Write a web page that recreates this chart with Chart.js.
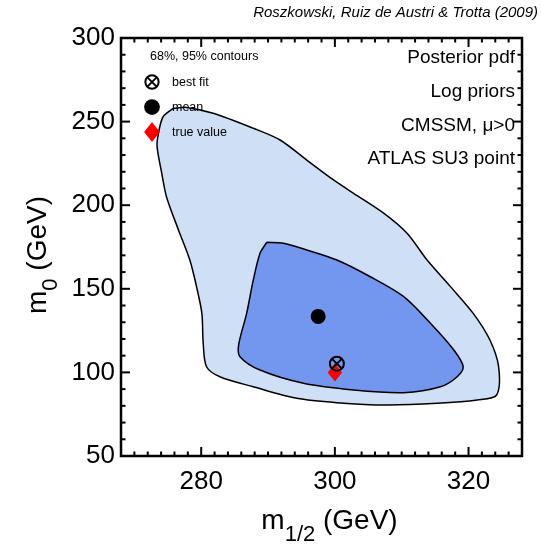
<!DOCTYPE html>
<html><head><meta charset="utf-8">
<script src="https://cdn.jsdelivr.net/npm/chart.js@4"></script>
<style>html,body{margin:0;padding:0;background:#fff}canvas{display:block}</style>
</head><body>
<canvas id="c" width="541" height="547"></canvas>
<script>
// ---- data (m1/2, m0 in GeV) ----
const outer95M12 = [275.8,274.3,273.6,273.4,274.1,274.8,276.6,278.3,279.3,280.1,280.3,280.8,282.8,287.8,294.3,300.3,307.8,315.3,321.3,324.2,324.5,323.2,320.7,317.3,313.8,310.8,307.3,302.8,299.8,295.8,291.8,287.8,281.8,277.8];
const outer95M0  = [257.9,252.9,243.0,235.0,219.1,205.1,185.2,167.2,151.3,135.3,117.4,103.4,97.4,91.4,84.5,81.9,80.5,81.5,83.5,86.5,103.4,119.4,135.3,151.3,167.2,183.2,195.2,207.1,215.1,227.0,239.0,246.0,255.0,258.5];
const inner68M12 = [289.8,288.8,287.8,286.8,285.6,285.8,288.8,295.3,302.8,310.3,315.8,318.3,319.2,317.8,314.3,310.3,305.3,300.3,295.8,292.3];
const inner68M0  = [177.8,171.2,155.3,135.3,116.4,109.4,101.4,93.5,89.5,87.9,91.4,97.4,103.4,113.4,129.4,145.3,157.2,167.2,173.2,177.2];
const meanPoint = [297.5, 133.5];
const bestFit   = [300.3, 105.2];
const trueValue = [300, 100];
const xTicks = [280, 300, 320];
const yTicks = [50, 100, 150, 200, 250, 300];
const xRange = [268, 328];
const yRange = [50, 300];
const annotations = ['Posterior pdf', 'Log priors', 'CMSSM, \u03bc>0', 'ATLAS SU3 point'];
const legendItems = ['best fit', 'mean', 'true value'];
const legendTitle = '68%, 95% contours';
const credit = 'Roszkowski, Ruiz de Austri & Trotta (2009)';

const FONT = '"Liberation Sans", Arial, sans-serif';
const closed = (xs, ys) => xs.map((v, i) => ({x: v, y: ys[i]})).concat([{x: xs[0], y: ys[0]}]);

function drawMarker(ctx, kind, px, py, s) {
  ctx.save();
  if (kind === 'best') {
    ctx.strokeStyle = '#000'; ctx.lineWidth = 2;
    ctx.beginPath(); ctx.arc(px, py, 7 * s, 0, Math.PI * 2); ctx.stroke();
    const d = 4.6 * s;
    ctx.beginPath(); ctx.moveTo(px - d, py - d); ctx.lineTo(px + d, py + d);
    ctx.moveTo(px + d, py - d); ctx.lineTo(px - d, py + d); ctx.stroke();
  } else if (kind === 'mean') {
    ctx.fillStyle = '#000';
    ctx.beginPath(); ctx.arc(px, py, 7.5 * s, 0, Math.PI * 2); ctx.fill();
  } else {
    ctx.fillStyle = '#ff0000';
    const r = 9 * s;
    ctx.beginPath(); ctx.moveTo(px, py - r); ctx.lineTo(px + r * 0.8, py); ctx.lineTo(px, py + r); ctx.lineTo(px - r * 0.8, py); ctx.closePath(); ctx.fill();
  }
  ctx.restore();
}

const deco = {
  id: 'deco',
  afterDatasetsDraw(chart) {
    const {ctx, scales: {x, y}} = chart;
    drawMarker(ctx, 'mean', x.getPixelForValue(meanPoint[0]), y.getPixelForValue(meanPoint[1]), 1);
    drawMarker(ctx, 'true', x.getPixelForValue(trueValue[0]), y.getPixelForValue(trueValue[1]), 1);
    drawMarker(ctx, 'best', x.getPixelForValue(bestFit[0]), y.getPixelForValue(bestFit[1]), 1);
  },
  afterDraw(chart) {
    const {ctx, chartArea: a, scales: {x, y}} = chart;
    ctx.save();
    // frame
    ctx.strokeStyle = '#000'; ctx.lineWidth = 2.5;
    ctx.strokeRect(a.left, a.top, a.right - a.left, a.bottom - a.top);
    // inward ticks
    ctx.lineWidth = 2;
    const seg = (x1, y1, x2, y2) => { ctx.beginPath(); ctx.moveTo(x1, y1); ctx.lineTo(x2, y2); ctx.stroke(); };
    for (let v = xRange[0]; v <= xRange[1]; v += 2) {
      const p = x.getPixelForValue(v);
      const L = xTicks.includes(v) ? 9 : 4.5;
      seg(p, a.bottom, p, a.bottom - L); seg(p, a.top, p, a.top + L);
    }
    for (let v = yRange[0]; v <= yRange[1]; v += 10) {
      const p = y.getPixelForValue(v);
      const L = yTicks.includes(v) ? 9 : 4.5;
      seg(a.left, p, a.left + L, p); seg(a.right, p, a.right - L, p);
    }
    // credit
    ctx.fillStyle = '#000';
    ctx.font = 'italic 15px ' + FONT;
    ctx.textAlign = 'right'; ctx.textBaseline = 'middle';
    ctx.fillText(credit, 538, 13);
    // annotations
    ctx.font = '19px ' + FONT;
    annotations.forEach((t, i) => ctx.fillText(t, a.right - 7, a.top + 20 + i * 33.7));
    // legend
    ctx.textAlign = 'left';
    ctx.font = '12.5px ' + FONT;
    ctx.fillText(legendTitle, a.left + 29, a.top + 19);
    const kinds = ['best', 'mean', 'true'];
    const ly = [a.top + 44, a.top + 69, a.top + 94];
    kinds.forEach((k, i) => {
      drawMarker(ctx, k, a.left + 31, ly[i], k === 'best' ? 0.95 : (k === 'true' ? 1.1 : 1.05));
      ctx.fillStyle = '#000';
      ctx.fillText(legendItems[i], a.left + 51, ly[i] + 1);
    });
    // axis titles
    const big = '28px ' + FONT, small = '22px ' + FONT;
    // x title
    ctx.textBaseline = 'alphabetic';
    ctx.font = big; const wm = ctx.measureText('m').width;
    ctx.font = small; const ws = ctx.measureText('1/2').width;
    ctx.font = big; const wg = ctx.measureText(' (GeV)').width;
    let tw = wm + ws + wg, cx = (a.left + a.right) / 2 - tw / 2 + 8, by = 529;
    ctx.font = big; ctx.fillText('m', cx, by);
    ctx.font = small; ctx.fillText('1/2', cx + wm, by + 12);
    ctx.font = big; ctx.fillText(' (GeV)', cx + wm + ws, by);
    // y title
    ctx.save();
    ctx.translate(46, (a.top + a.bottom) / 2);
    ctx.rotate(-Math.PI / 2);
    ctx.font = big; const wm2 = ctx.measureText('m').width;
    ctx.font = small; const ws2 = ctx.measureText('0').width;
    ctx.font = big; const wg2 = ctx.measureText(' (GeV)').width;
    const sx = -(wm2 + ws2 + wg2) / 2 - 8;
    ctx.fillText('m', sx, 0);
    ctx.font = small; ctx.fillText('0', sx + wm2, 11);
    ctx.font = big; ctx.fillText(' (GeV)', sx + wm2 + ws2, 0);
    ctx.restore();
    ctx.restore();
  }
};

new Chart(document.getElementById('c'), {
  type: 'line',
  data: {
    datasets: [
      {label: '68%', data: closed(inner68M12, inner68M0), fill: 'shape', backgroundColor: '#7396ee',
       borderColor: '#000', borderWidth: 1.5, pointRadius: 0, tension: 0.3, order: 1},
      {label: '95%', data: closed(outer95M12, outer95M0), fill: 'shape', backgroundColor: '#cedff6',
       borderColor: '#000', borderWidth: 1.5, pointRadius: 0, tension: 0.3, order: 2}
    ]
  },
  options: {
    responsive: false, animation: false,
    layout: {padding: {left: 0, right: 19, top: 38, bottom: 0}},
    plugins: {legend: {display: false}, tooltip: {enabled: false}},
    scales: {
      x: {type: 'linear', min: xRange[0], max: xRange[1],
          afterBuildTicks: s => { s.ticks = xTicks.map(v => ({value: v})); },
          afterFit: s => { s.height = 91; },
          grid: {display: false, drawTicks: false}, border: {display: false},
          ticks: {padding: 10, color: '#000', font: {family: FONT, size: 26}}},
      y: {type: 'linear', min: yRange[0], max: yRange[1],
          afterBuildTicks: s => { s.ticks = yTicks.map(v => ({value: v})); },
          afterFit: s => { s.width = 121; },
          grid: {display: false, drawTicks: false}, border: {display: false},
          ticks: {padding: 6, color: '#000', font: {family: FONT, size: 26}}}
    }
  },
  plugins: [deco]
});
</script>
</body></html>
